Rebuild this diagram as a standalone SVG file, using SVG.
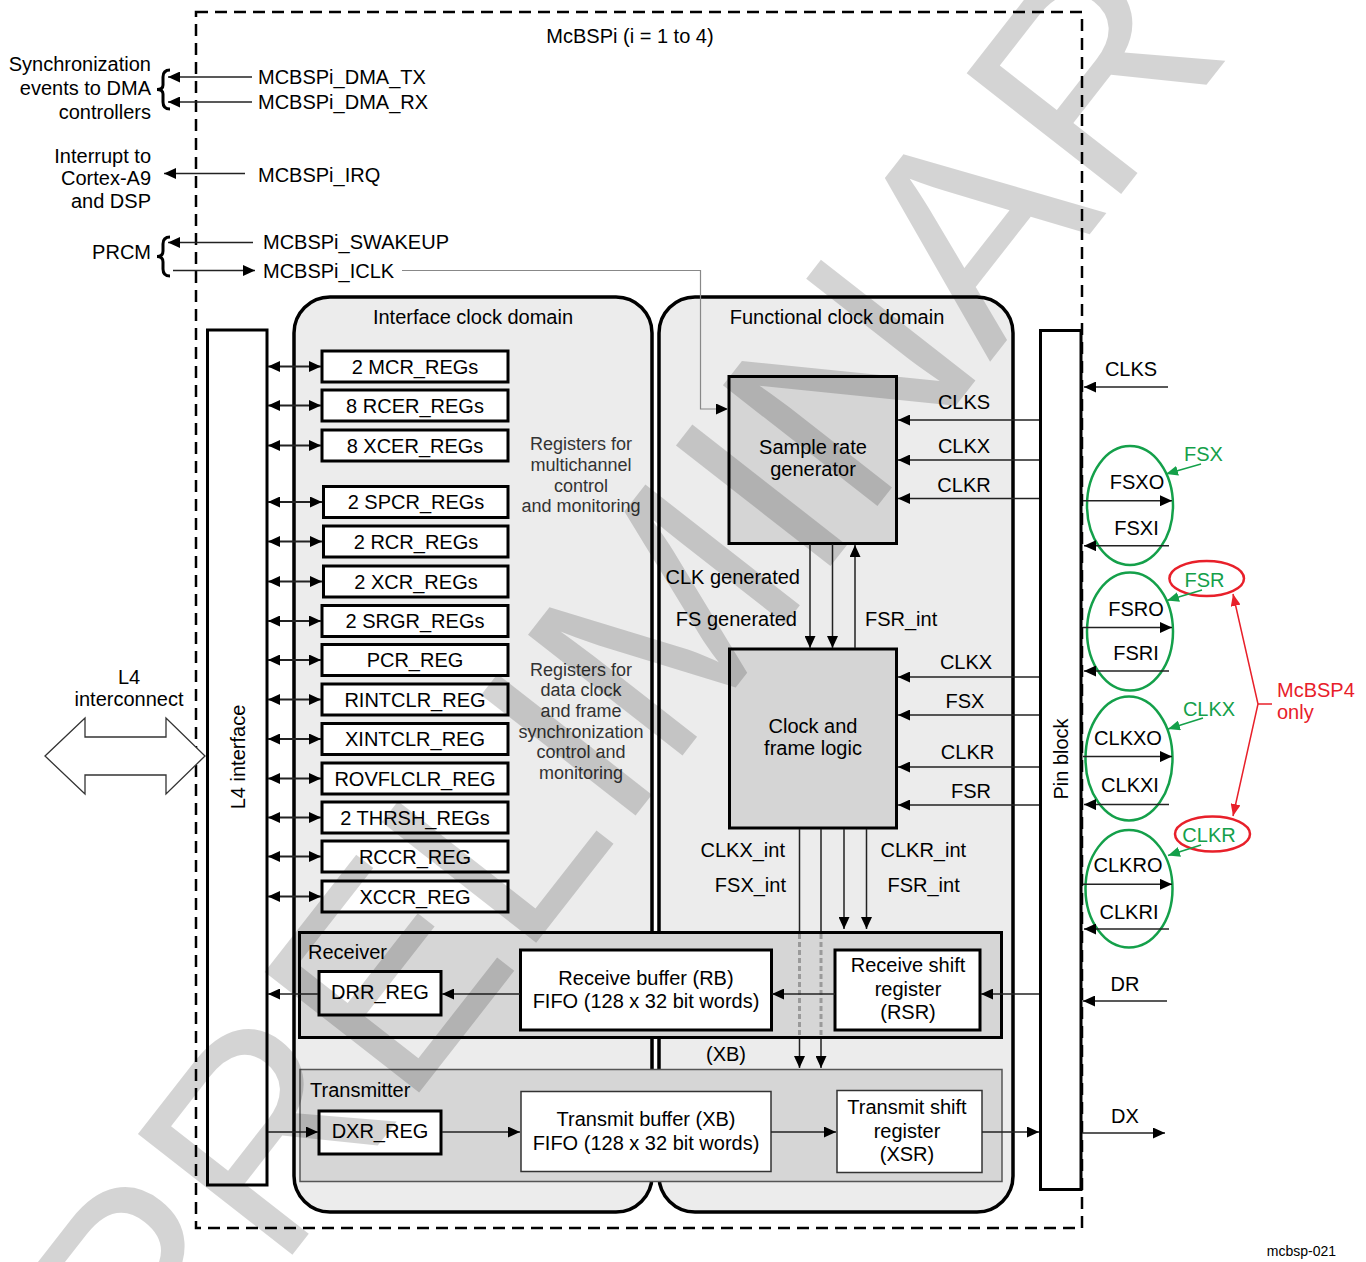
<svg xmlns="http://www.w3.org/2000/svg" width="1366" height="1262" viewBox="0 0 1366 1262">
<defs>
<style>
text{font-family:"Liberation Sans",Arial,Helvetica,sans-serif;font-size:20px;fill:#000}
.c{text-anchor:middle}
.r{text-anchor:end}
.d{font-size:18px;fill:#333}
.g{fill:#14a04a}
.rd{fill:#e8202a}
.box{fill:#fff;stroke:#000;stroke-width:3}
.thin{fill:#fff;stroke:#333;stroke-width:1.5}
.gray{fill:#d5d5d5;stroke:#000;stroke-width:3}
.dom{fill:#ececec;stroke:#000;stroke-width:3.5}
.ln{fill:none;stroke:#222;stroke-width:1.5}
.lr{fill:none;stroke:#222;stroke-width:2}
.ar{marker-end:url(#ah)}
.da{marker-start:url(#ah);marker-end:url(#ah)}
.brace{fill:none;stroke:#000;stroke-width:3}
.ell{fill:none;stroke:#14a04a;stroke-width:2.5}
.rell{fill:none;stroke:#e8202a;stroke-width:2.5}
</style>
<marker id="ah" markerUnits="userSpaceOnUse" markerWidth="12" markerHeight="11" refX="12" refY="5.5" orient="auto-start-reverse"><path d="M0,0 L12,5.5 L0,11 z" fill="#000"/></marker>
<marker id="ahg" markerUnits="userSpaceOnUse" markerWidth="12" markerHeight="10" refX="12" refY="5" orient="auto"><path d="M0,0 L12,5 L0,10 z" fill="#14a04a"/></marker>
<marker id="ahr" markerUnits="userSpaceOnUse" markerWidth="12" markerHeight="10" refX="12" refY="5" orient="auto-start-reverse"><path d="M0,0 L12,5 L0,10 z" fill="#e8202a"/></marker>
</defs>
<rect width="1366" height="1262" fill="#fff"/>

<g id="outer">
<rect x="196" y="12" width="886" height="1216" fill="none" stroke="#000" stroke-width="2.5" stroke-dasharray="12 7"/>
<text class="c" x="630" y="43">McBSPi (i = 1 to 4)</text>
</g>

<g id="dma-targets">
<text class="r" x="151" y="70.5">Synchronization</text>
<text class="r" x="151" y="95">events to DMA</text>
<text class="r" x="151" y="118.5">controllers</text>
<path class="brace" d="M170,70 Q163,70 163,77 V85 Q163,89.5 157,89.5 Q163,89.5 163,94 V102 Q163,109 170,109"/>
<text x="258" y="83.5">MCBSPi_DMA_TX</text>
<text x="258" y="108.5">MCBSPi_DMA_RX</text>
</g>

<g id="irq">
<text class="r" x="151" y="162.5">Interrupt to</text>
<text class="r" x="151" y="185">Cortex-A9</text>
<text class="r" x="151" y="207.5">and DSP</text>
<text x="258" y="181.5">MCBSPi_IRQ</text>
</g>

<g id="prcm">
<text class="r" x="151" y="259">PRCM</text>
<path class="brace" d="M170,237 Q163,237 163,244 V251 Q163,256.5 157,256.5 Q163,256.5 163,262 V269 Q163,276 170,276"/>
<text x="263" y="248.5">MCBSPi_SWAKEUP</text>
<text x="263" y="277.5">MCBSPi_ICLK</text>
</g>

<g id="l4-interconnect">
<polygon points="45,756 85,718 85,737 166,737 166,718 205,756 166,794 166,775 85,775 85,794" fill="#fff" stroke="#333" stroke-width="1.3"/>
<text class="c" x="129" y="684">L4</text>
<text class="c" x="129" y="706">interconnect</text>
</g>

<g id="interface-domain">
<rect class="dom" x="294" y="297" width="358" height="915" rx="36" ry="36"/>
<text class="c" x="473" y="324">Interface clock domain</text>
</g>
<g id="functional-domain">
<rect class="dom" x="659" y="297" width="354" height="915" rx="36" ry="36"/>
<text class="c" x="837" y="324">Functional clock domain</text>
</g>

<g id="l4-interface">
<rect class="box" x="207.5" y="330" width="59.5" height="855" stroke-width="3.5"/>
<text class="c" transform="translate(245,757) rotate(-90)">L4 interface</text>
</g>

<g id="registers">
<g id="reg-mcr"><rect class="box" x="322" y="351" width="186" height="31"/><text class="c" x="415" y="373.5">2 MCR_REGs</text></g>
<g id="reg-rcer"><rect class="box" x="322" y="390" width="186" height="31"/><text class="c" x="415" y="412.5">8 RCER_REGs</text></g>
<g id="reg-xcer"><rect class="box" x="322" y="430" width="186" height="31"/><text class="c" x="415" y="452.5">8 XCER_REGs</text></g>
<g id="reg-spcr"><rect class="box" x="323.5" y="486.5" width="184.5" height="31"/><text class="c" x="416" y="509">2 SPCR_REGs</text></g>
<g id="reg-rcr"><rect class="box" x="323.5" y="526" width="184.5" height="31"/><text class="c" x="416" y="548.5">2 RCR_REGs</text></g>
<g id="reg-xcr"><rect class="box" x="323.5" y="566" width="184.5" height="31"/><text class="c" x="416" y="588.5">2 XCR_REGs</text></g>
<g id="reg-srgr"><rect class="box" x="322" y="605.5" width="186" height="31"/><text class="c" x="415" y="628">2 SRGR_REGs</text></g>
<g id="reg-pcr"><rect class="box" x="322" y="644.5" width="186" height="31"/><text class="c" x="415" y="667">PCR_REG</text></g>
<g id="reg-rintclr"><rect class="box" x="322" y="684" width="186" height="31"/><text class="c" x="415" y="706.5">RINTCLR_REG</text></g>
<g id="reg-xintclr"><rect class="box" x="322" y="723.5" width="186" height="31"/><text class="c" x="415" y="746">XINTCLR_REG</text></g>
<g id="reg-rovflclr"><rect class="box" x="322" y="763" width="186" height="31"/><text class="c" x="415" y="785.5">ROVFLCLR_REG</text></g>
<g id="reg-thrsh"><rect class="box" x="322" y="802" width="186" height="31"/><text class="c" x="415" y="824.5">2 THRSH_REGs</text></g>
<g id="reg-rccr"><rect class="box" x="322" y="841" width="186" height="31"/><text class="c" x="415" y="863.5">RCCR_REG</text></g>
<g id="reg-xccr"><rect class="box" x="322" y="881" width="186" height="31"/><text class="c" x="415" y="903.5">XCCR_REG</text></g>
</g>

<g id="note-multichannel">
<text class="c d" x="581" y="450">Registers for</text>
<text class="c d" x="581" y="471">multichannel</text>
<text class="c d" x="581" y="492">control</text>
<text class="c d" x="581" y="512">and monitoring</text>
</g>
<g id="note-sync">
<text class="c d" x="581" y="676">Registers for</text>
<text class="c d" x="581" y="696">data clock</text>
<text class="c d" x="581" y="717">and frame</text>
<text class="c d" x="581" y="738">synchronization</text>
<text class="c d" x="581" y="758">control and</text>
<text class="c d" x="581" y="779">monitoring</text>
</g>

<g id="sample-rate-generator">
<rect class="gray" x="729" y="376.5" width="167.5" height="167"/>
<text class="c" x="813" y="454">Sample rate</text>
<text class="c" x="813" y="476">generator</text>
</g>

<g id="clock-frame-logic">
<rect class="gray" x="729.5" y="649" width="167" height="179"/>
<text class="c" x="813" y="733">Clock and</text>
<text class="c" x="813" y="755">frame logic</text>
</g>

<g id="receiver">
<rect x="299.5" y="932.5" width="702" height="105" fill="#d6d6d6" stroke="#000" stroke-width="3"/>
<text x="308" y="959">Receiver</text>
<g id="drr-reg"><rect class="box" x="319" y="971.5" width="122" height="43.5"/><text class="c" x="380" y="999">DRR_REG</text></g>
<g id="receive-buffer"><rect class="box" x="520.5" y="950" width="251" height="80"/><text class="c" x="646" y="985">Receive buffer (RB)</text><text class="c" x="646" y="1008">FIFO (128 x 32 bit words)</text></g>
<g id="rsr"><rect class="box" x="835" y="950" width="145" height="80"/><text class="c" x="908" y="972">Receive shift</text><text class="c" x="908" y="996">register</text><text class="c" x="908" y="1019">(RSR)</text></g>
</g>

<g id="transmitter">
<rect x="300" y="1069.5" width="702" height="112" fill="#d6d6d6" stroke="#555" stroke-width="1.5"/>
<text x="310" y="1097">Transmitter</text>
<g id="dxr-reg"><rect class="box" x="319" y="1111" width="122" height="43"/><text class="c" x="380" y="1138">DXR_REG</text></g>
<g id="transmit-buffer"><rect class="thin" x="521" y="1091.5" width="250" height="80"/><text class="c" x="646" y="1126">Transmit buffer (XB)</text><text class="c" x="646" y="1150">FIFO (128 x 32 bit words)</text></g>
<g id="xsr"><rect class="thin" x="837" y="1090.5" width="145" height="82"/><text class="c" x="907" y="1114">Transmit shift</text><text class="c" x="907" y="1138">register</text><text class="c" x="907" y="1161">(XSR)</text></g>
</g>

<g id="pin-block">
<rect class="box" x="1040.5" y="330.5" width="40.5" height="859" stroke-width="3.5"/>
<text class="c" transform="translate(1068,759) rotate(-90)">Pin block</text>
</g>

<g id="pins">
<text class="c" x="1131" y="376">CLKS</text>
<ellipse class="ell" cx="1130" cy="505.5" rx="43" ry="59.5"/>
<text class="c" x="1137" y="488.5">FSXO</text>
<text class="c" x="1136.5" y="535">FSXI</text>
<ellipse class="ell" cx="1130" cy="631.5" rx="43" ry="59"/>
<text class="c" x="1136" y="616">FSRO</text>
<text class="c" x="1136" y="660">FSRI</text>
<ellipse class="ell" cx="1129" cy="758.5" rx="43.5" ry="62"/>
<text class="c" x="1128" y="745">CLKXO</text>
<text class="c" x="1130" y="792">CLKXI</text>
<ellipse class="ell" cx="1129" cy="888.7" rx="43.5" ry="58.8"/>
<text class="c" x="1128" y="872">CLKRO</text>
<text class="c" x="1129" y="919">CLKRI</text>
<text class="c" x="1125" y="991">DR</text>
<text class="c" x="1125" y="1123">DX</text>
</g>

<g id="mcbsp4-notes">
<text class="c g" x="1203.5" y="461">FSX</text>
<ellipse class="rell" cx="1206.7" cy="578.6" rx="37.3" ry="17.5"/>
<text class="c g" x="1204.5" y="587">FSR</text>
<text class="c g" x="1209" y="715.5">CLKX</text>
<ellipse class="rell" cx="1212.5" cy="834" rx="37.5" ry="17.6"/>
<text class="c g" x="1209" y="841.5">CLKR</text>
<text class="rd" x="1277" y="697">McBSP4</text>
<text class="rd" x="1277" y="719">only</text>
</g>

<g id="connectors">
<path class="ln ar" d="M252,77 H168"/>
<path class="ln ar" d="M252,102 H168"/>
<path class="ln ar" d="M245,173.5 H164"/>
<path class="ln ar" d="M253,242.5 H168"/>
<path class="ln ar" d="M173,270.5 H255"/>
<path d="M402,270.5 H700.5 V409 H728" fill="none" stroke="#888" stroke-width="1.2" marker-end="url(#ah)"/>

<path class="lr da" d="M268,366.5 H321"/>
<path class="lr da" d="M268,405.5 H321"/>
<path class="lr da" d="M268,445.5 H321"/>
<path class="lr da" d="M268,502 H322"/>
<path class="lr da" d="M268,541.5 H322"/>
<path class="lr da" d="M268,581.5 H322"/>
<path class="lr da" d="M268,621 H321"/>
<path class="lr da" d="M268,660 H321"/>
<path class="lr da" d="M268,699.5 H321"/>
<path class="lr da" d="M268,739 H321"/>
<path class="lr da" d="M268,778.5 H321"/>
<path class="lr da" d="M268,817.5 H321"/>
<path class="lr da" d="M268,856.5 H321"/>
<path class="lr da" d="M268,896.5 H321"/>

<path class="ln ar" d="M1039,420 H898"/>
<path class="ln ar" d="M1039,460 H898"/>
<path class="ln ar" d="M1039,498.5 H898"/>
<path class="ln ar" d="M810,544 V648"/>
<path class="ln ar" d="M832.5,544 V648"/>
<path class="ln ar" d="M855,648 V545"/>

<path class="ln ar" d="M1039,677 H898"/>
<path class="ln ar" d="M1039,715 H898"/>
<path class="ln ar" d="M1039,767 H898"/>
<path class="ln ar" d="M1039,805 H898"/>

<path class="ln ar" d="M844,829 V929"/>
<path class="ln ar" d="M866.5,829 V929"/>
<path class="ln" d="M799.5,829 V931 M821,829 V931"/>
<path d="M799.5,934 V1036 M821,934 V1036" fill="none" stroke="#9a9a9a" stroke-width="3" stroke-dasharray="5 3"/>
<path class="ln ar" d="M799.5,1039 V1068"/>
<path class="ln ar" d="M821,1039 V1068"/>

<path class="ln ar" d="M1039,994 H981"/>
<path class="ln ar" d="M835,994 H772"/>
<path class="ln ar" d="M520,994 H442"/>
<path class="ln ar" d="M318,994 H268"/>

<path class="ln ar" d="M268,1132 H318"/>
<path class="ln ar" d="M442,1132 H520"/>
<path class="ln ar" d="M771,1132 H836"/>
<path class="ln ar" d="M982,1132 H1039"/>
<path class="ln ar" d="M1082,1133 H1165"/>
<path class="ln ar" d="M1167,1001 H1083"/>
<path class="ln ar" d="M1168,387 H1084"/>

<path class="ln ar" d="M1083,500.7 H1172"/>
<path class="ln ar" d="M1169,545.7 H1084"/>
<path class="ln ar" d="M1083,627.5 H1172"/>
<path class="ln ar" d="M1169,671 H1084"/>
<path class="ln ar" d="M1083,756.6 H1172"/>
<path class="ln ar" d="M1169,804.6 H1084"/>
<path class="ln ar" d="M1083,884.3 H1172"/>
<path class="ln ar" d="M1169,929 H1084"/>

<path d="M1201,464 L1166,474" fill="none" stroke="#14a04a" stroke-width="1.5" marker-end="url(#ahg)"/>
<path d="M1202,590 L1167,600.5" fill="none" stroke="#14a04a" stroke-width="1.5" marker-end="url(#ahg)"/>
<path d="M1203,718 L1168,729" fill="none" stroke="#14a04a" stroke-width="1.5" marker-end="url(#ahg)"/>
<path d="M1201,845 L1168,855.5" fill="none" stroke="#14a04a" stroke-width="1.5" marker-end="url(#ahg)"/>

<path d="M1233,594 L1258,704 L1233,816" fill="none" stroke="#e8202a" stroke-width="1.5" marker-start="url(#ahr)" marker-end="url(#ahr)"/>
<path d="M1258,704 H1272" fill="none" stroke="#e8202a" stroke-width="1.5"/>
</g>

<g id="labels">
<text class="c" x="964" y="409">CLKS</text>
<text class="c" x="964" y="453">CLKX</text>
<text class="c" x="964" y="492">CLKR</text>
<text class="r" x="800" y="584">CLK generated</text>
<text class="r" x="797" y="626">FS generated</text>
<text x="865" y="626">FSR_int</text>
<text class="c" x="966" y="669">CLKX</text>
<text class="c" x="965" y="708">FSX</text>
<text class="c" x="967.5" y="759">CLKR</text>
<text class="c" x="971" y="798">FSR</text>
<text class="r" x="785" y="857">CLKX_int</text>
<text class="r" x="786" y="891.5">FSX_int</text>
<text x="880.5" y="857">CLKR_int</text>
<text x="887.5" y="891.5">FSR_int</text>
<text class="c" x="726" y="1061">(XB)</text>
<text class="r" x="1336" y="1256" style="font-size:14px">mcbsp-021</text>
</g>

<text id="watermark" transform="translate(161,1423) rotate(-52)" style="font-size:285px;fill:#000;fill-opacity:0.17">PRELIMINARY</text>
</svg>
